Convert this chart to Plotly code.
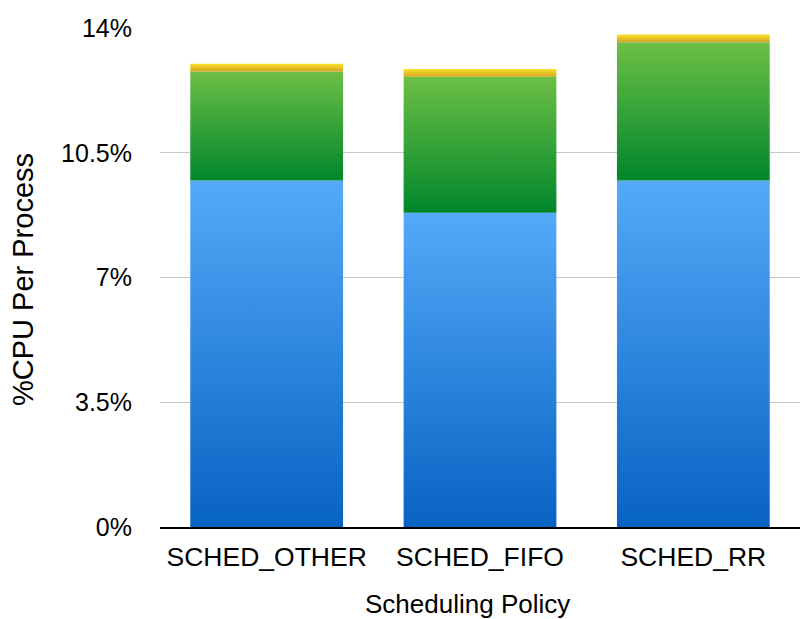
import plotly.graph_objects as go

categories = ["SCHED_OTHER", "SCHED_FIFO", "SCHED_RR"]
blue_vals = [9.72, 8.82, 9.72]
green_vals = [3.06, 3.81, 3.88]
yellow_vals = [0.22, 0.22, 0.22]
y_ticks = [0, 3.5, 7, 10.5, 14]
y_tick_text = ["0%", "3.5%", "7%", "10.5%", "14%"]

series = [
    (blue_vals, "#0763C3", "#54AAF9"),
    (green_vals, "#00862B", "#6CBF45"),
    (yellow_vals, "#D2A522", "#FBE22A"),
]

half_w = 0.358
fig = go.Figure()
bases = [0.0] * len(categories)
for vals, c_bot, c_top in series:
    for i, v in enumerate(vals):
        b = bases[i]
        t = b + v
        xs = [i - half_w, i + half_w, i + half_w, i - half_w, i - half_w]
        ys = [b, b, t, t, b]
        fig.add_trace(go.Scatter(
            x=xs, y=ys, mode="lines", fill="toself",
            line=dict(width=0, color="rgba(0,0,0,0)"),
            fillgradient=dict(type="vertical", colorscale=[[0, c_bot], [1, c_top]]),
            showlegend=False, hoverinfo="skip",
        ))
        bases[i] = t

font = "Liberation Sans, Arial, Helvetica, sans-serif"
fig.update_layout(
    width=801, height=619,
    margin=dict(l=160, r=1, t=28, b=92),
    plot_bgcolor="white", paper_bgcolor="white",
    font=dict(family=font, size=25, color="#000"),
    xaxis=dict(
        range=[-0.5, 2.5], tickvals=[0, 1, 2], ticktext=categories,
        showgrid=False, zeroline=False, showline=True, linecolor="#000", linewidth=2,
        ticks="", ticklabelstandoff=5, tickfont=dict(size=26.5),
    ),
    yaxis=dict(
        range=[0, 14], tickvals=y_ticks, ticktext=y_tick_text,
        showgrid=True, gridcolor="#c8c8c8", gridwidth=1, zeroline=False,
        ticks="", ticklabelstandoff=27, tickfont=dict(size=25),
    ),
    annotations=[
        dict(text="Scheduling Policy", xref="paper", yref="paper",
             x=(467 - 160) / 640, y=(527 - 604) / 499, xanchor="center", yanchor="middle",
             showarrow=False, font=dict(size=26)),
        dict(text="%CPU Per Process", xref="paper", yref="paper", textangle=-90,
             x=(23 - 160) / 640, y=(527 - 280) / 499, xanchor="center", yanchor="middle",
             showarrow=False, font=dict(size=29)),
    ],
)

fig.write_html("out.html")
